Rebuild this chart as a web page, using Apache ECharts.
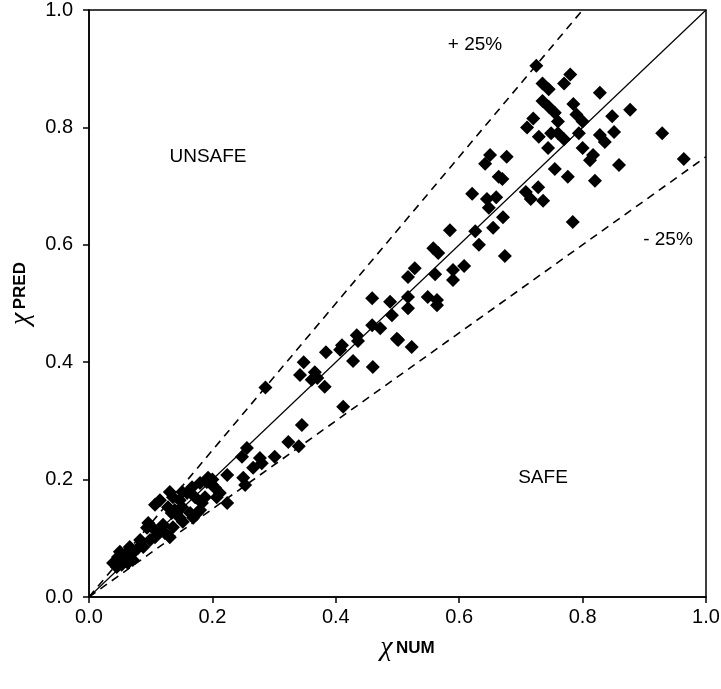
<!DOCTYPE html>
<html>
<head>
<meta charset="utf-8">
<script src="https://cdn.jsdelivr.net/npm/echarts@6/dist/echarts.min.js"></script>
<style>
  html, body { margin: 0; padding: 0; background: #fff; }
  #chart { width: 721px; height: 689px; }
</style>
</head>
<body>
<div id="chart"></div>
<script>
  // 数据点: [chi NUM, chi PRED]
  var pointsHigh = [
    [0.725,0.905],[0.735,0.875],[0.78,0.89],[0.77,0.875],[0.745,0.865],[0.828,0.859],
    [0.735,0.845],[0.745,0.835],[0.755,0.825],[0.785,0.84],[0.79,0.822],[0.794,0.79],
    [0.80,0.81],[0.76,0.81],[0.72,0.815],[0.71,0.80],[0.877,0.83],[0.848,0.819],
    [0.828,0.787],[0.851,0.792],[0.836,0.775],[0.817,0.753],[0.812,0.744],[0.859,0.736],
    [0.82,0.709],[0.929,0.79],[0.964,0.746],[0.776,0.716],[0.784,0.639],[0.77,0.78],
    [0.749,0.79],[0.729,0.784],[0.744,0.765],[0.755,0.729],[0.736,0.675],[0.716,0.678],
    [0.728,0.698],[0.708,0.69],[0.76,0.79],[0.80,0.765]
  ];
  var pointsMid = [
    [0.65,0.753],[0.642,0.738],[0.677,0.75],[0.664,0.716],[0.67,0.712],[0.621,0.687],
    [0.645,0.678],[0.66,0.681],[0.648,0.663],[0.671,0.647],[0.585,0.625],[0.626,0.623],
    [0.655,0.629],[0.632,0.6],[0.674,0.581],[0.608,0.564],[0.59,0.557],[0.59,0.54],
    [0.558,0.594],[0.566,0.586],[0.561,0.55],[0.528,0.56],[0.517,0.545],[0.488,0.503],
    [0.491,0.48],[0.517,0.511],[0.517,0.492],[0.549,0.511],[0.564,0.506],[0.564,0.497],
    [0.472,0.458],[0.459,0.463],[0.501,0.438],[0.523,0.426],[0.459,0.509],
    [0.434,0.446],[0.436,0.436],[0.41,0.429],[0.407,0.421],[0.384,0.417],[0.428,0.402],
    [0.46,0.392],[0.499,0.44],[0.348,0.4],[0.342,0.378],[0.366,0.383],[0.361,0.37],
    [0.37,0.373],[0.382,0.358],[0.286,0.357],[0.412,0.324],[0.345,0.293],[0.323,0.264],
    [0.34,0.257],[0.301,0.239],[0.256,0.254],[0.248,0.239],[0.277,0.237],[0.266,0.22],
    [0.28,0.228],[0.224,0.208],[0.25,0.203],[0.253,0.191],[0.212,0.177],[0.224,0.16]
  ];
  var pointsLow = [
    [0.18,0.194],[0.191,0.196],[0.2,0.191],[0.204,0.186],[0.2,0.2],[0.193,0.203],
    [0.207,0.17],[0.167,0.187],[0.159,0.177],[0.172,0.17],[0.188,0.17],[0.183,0.16],
    [0.18,0.148],[0.131,0.179],[0.136,0.17],[0.151,0.179],[0.115,0.165],[0.107,0.157],
    [0.147,0.165],[0.151,0.153],[0.128,0.153],[0.134,0.143],[0.139,0.148],[0.164,0.143],
    [0.169,0.135],[0.175,0.143],[0.147,0.135],[0.152,0.128],[0.096,0.126],[0.102,0.119],
    [0.094,0.118],[0.12,0.123],[0.115,0.111],[0.123,0.109],[0.136,0.119],[0.131,0.102],
    [0.107,0.102],[0.099,0.097],[0.083,0.097],[0.088,0.085],[0.079,0.083],[0.066,0.085],
    [0.071,0.075],[0.058,0.072],[0.05,0.077],[0.047,0.068],[0.071,0.063],[0.063,0.058],
    [0.039,0.058],[0.045,0.051],[0.053,0.055]
  ];
  // 参考线: y = x, +25%, -25%
  var lineEqual = [[0, 0], [1, 1]];
  var linePlus = [[0, 0], [0.8, 1]];
  var lineMinus = [[0, 0], [1, 0.75]];

  var font = 'Liberation Sans, Arial, sans-serif';
  var chart = echarts.init(document.getElementById('chart'));

  var dashStyle = { color: '#000', width: 1.6, type: [8, 6] };
  var titleRich = {
    c: { fontFamily: 'Liberation Serif, serif', fontStyle: 'italic', fontSize: 28, color: '#000' },
    b: { fontFamily: font, fontWeight: 'bold', fontSize: 17, color: '#000' }
  };
  function tickFmt(v) { return v.toFixed(1); }
  function note(text, x, y) {
    return {
      type: 'text', x: x, y: y,
      style: { text: text, font: '19px ' + font, fill: '#000', align: 'center', verticalAlign: 'middle' }
    };
  }

  var option = {
    animation: false,
    backgroundColor: '#fff',
    grid: {
      left: 89, right: 15, top: 10, bottom: 92,
      show: true, borderColor: '#000', borderWidth: 1.5,
      outerBoundsMode: 'none'
    },
    xAxis: {
      type: 'value', min: 0, max: 1, interval: 0.2,
      name: '{c|χ} {b|NUM}',
      nameLocation: 'middle', nameGap: 37,
      nameTextStyle: { rich: titleRich, padding: [0, 0, 0, 20] },
      axisLine: { lineStyle: { color: '#000', width: 1.5 } },
      axisTick: { length: 6, lineStyle: { color: '#000', width: 1.5 } },
      axisLabel: { fontFamily: font, fontSize: 20, color: '#000', margin: 10, formatter: tickFmt },
      splitLine: { show: false }
    },
    yAxis: {
      type: 'value', min: 0, max: 1, interval: 0.2,
      name: '{c|χ} {b|PRED}',
      nameLocation: 'middle', nameGap: 44, nameRotate: 90,
      nameTextStyle: { rich: titleRich, padding: [0, 0, 0, 20] },
      axisLine: { lineStyle: { color: '#000', width: 1.5 } },
      axisTick: { length: 6, lineStyle: { color: '#000', width: 1.5 } },
      axisLabel: { fontFamily: font, fontSize: 20, color: '#000', margin: 16, formatter: tickFmt },
      splitLine: { show: false }
    },
    series: [
      { type: 'line', data: lineEqual, symbol: 'none', lineStyle: { color: '#000', width: 1.2 }, z: 1 },
      { type: 'line', data: linePlus, symbol: 'none', lineStyle: dashStyle, z: 1 },
      { type: 'line', data: lineMinus, symbol: 'none', lineStyle: dashStyle, z: 1 },
      {
        type: 'scatter', symbol: 'diamond', symbolSize: 14,
        data: pointsHigh.concat(pointsMid, pointsLow),
        itemStyle: { color: '#000', opacity: 1 }, z: 3
      }
    ],
    graphic: [
      note('+ 25%', 475, 45),
      note('UNSAFE', 208, 157),
      note('- 25%', 668, 240),
      note('SAFE', 543, 478)
    ]
  };
  chart.setOption(option);
</script>
</body>
</html>
